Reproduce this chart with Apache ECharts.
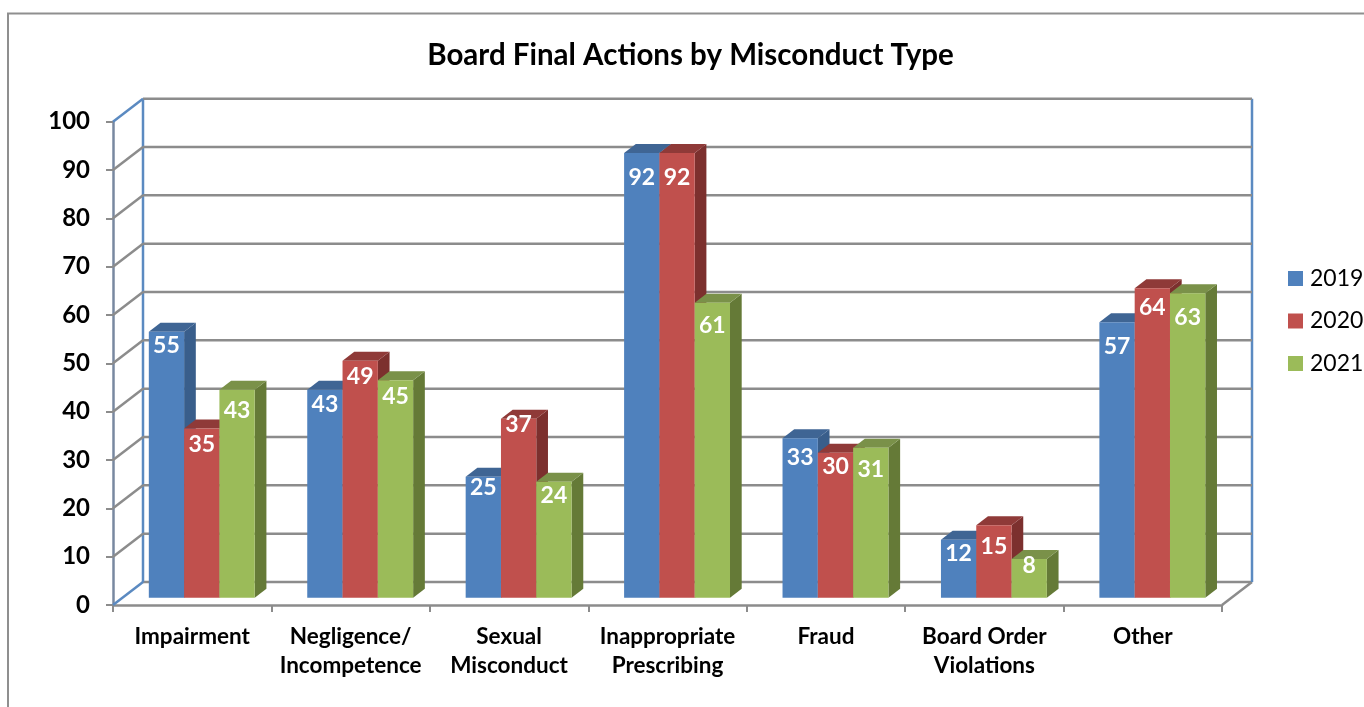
<!DOCTYPE html>
<html>
<head>
<meta charset="utf-8">
<style>
  html, body { margin: 0; padding: 0; background: #fff; }
  #chart { width: 1364px; height: 707px; }
</style>
<script src="https://cdn.jsdelivr.net/npm/echarts@6/dist/echarts.min.js"></script>
</head>
<body>
<div id="chart"></div>
<script>
const categories = ['Impairment', 'Negligence/\nIncompetence', 'Sexual\nMisconduct', 'Inappropriate\nPrescribing', 'Fraud', 'Board Order\nViolations', 'Other']
const yTicks = [0, 10, 20, 30, 40, 50, 60, 70, 80, 90, 100]
const values2019 = [55, 43, 25, 92, 33, 12, 57]
const values2020 = [35, 49, 37, 92, 30, 15, 64]
const values2021 = [43, 45, 24, 61, 31, 8, 63]

// the labels were placed by hand in the original, so each one drops by its own amount
const labelDrop2019 = [14, 15, 11, 25, 19, 14, 24]
const labelDrop2020 = [16, 16, 6, 25, 14, 21, 19]
const labelDrop2021 = [21, 16, 14, 23, 22, 7, 24]

const FONT = 'Lato'
const GREY = '#8c8c8c'
const BLUE = '#5b8ac1'
const FRONT_AXIS = '#7888a0'

// oblique projection used by the fake 3D
const DEPTH_X = 30
const DEPTH_Y = -23
const BAR_NEAR = 0.32
const BAR_FAR = 0.71
const BAR_W = 35.3
const CLUSTER_SHIFT = -53 // first bar starts this far left of the band centre
const LINE_W = 2.5

const chart = echarts.init(document.getElementById('chart'))

function wallItem(params, api) {
  const v = api.value(1)
  const cs = params.coordSys
  const y = api.coord([0, v])[1]
  const x0 = cs.x
  const x1 = cs.x + cs.width
  const bx0 = x0 + DEPTH_X
  const bx1 = x1 + DEPTH_X
  const by = y + DEPTH_Y
  const children = [
    { type: 'line', shape: { x1: bx0, y1: by, x2: bx1, y2: by }, style: { stroke: GREY, lineWidth: LINE_W } },
    { type: 'line', shape: { x1: x0, y1: y, x2: bx0, y2: by }, style: { stroke: v === 0 || v === 100 ? BLUE : GREY, lineWidth: LINE_W } }
  ]
  if (v === 0) {
    children.push({ type: 'line', shape: { x1: x1, y1: y, x2: bx1, y2: by }, style: { stroke: GREY, lineWidth: LINE_W } })
    const top = api.coord([0, 100])[1] + DEPTH_Y
    children.push({ type: 'line', shape: { x1: bx0, y1: by, x2: bx0, y2: top }, style: { stroke: BLUE, lineWidth: LINE_W } })
    children.push({ type: 'line', shape: { x1: bx1, y1: by, x2: bx1, y2: top }, style: { stroke: BLUE, lineWidth: LINE_W } })
  }
  return { type: 'group', children }
}

function barRenderer(slot, front, top, side, drops) {
  return function (params, api) {
    const i = api.value(0)
    const v = api.value(1)
    const c = api.coord([i, v])
    const base = api.coord([i, 0])[1]
    const left = c[0] + CLUSTER_SHIFT + slot * BAR_W + DEPTH_X * BAR_NEAR
    const right = left + BAR_W
    const yTop = c[1] + DEPTH_Y * BAR_NEAR
    const yBase = base + DEPTH_Y * BAR_NEAR
    const dx = DEPTH_X * (BAR_FAR - BAR_NEAR)
    const dy = DEPTH_Y * (BAR_FAR - BAR_NEAR)
    return {
      type: 'group',
      children: [
        { type: 'polygon', shape: { points: [[right, yBase], [right + dx, yBase + dy], [right + dx, yTop + dy], [right, yTop]] }, style: { fill: side } },
        { type: 'polygon', shape: { points: [[left, yTop], [left + dx, yTop + dy], [right + dx, yTop + dy], [right, yTop]] }, style: { fill: top } },
        { type: 'rect', shape: { x: left, y: yTop, width: BAR_W, height: yBase - yTop }, style: { fill: front } },
        {
          type: 'text',
          style: {
            x: (left + right) / 2,
            y: yTop + drops[i],
            text: String(v),
            fill: '#fff',
            font: 'bold 23px ' + FONT,
            align: 'center',
            verticalAlign: 'middle'
          }
        }
      ]
    }
  }
}

function barSeries(name, values, slot, front, top, side, drops) {
  return {
    name,
    type: 'custom',
    coordinateSystem: 'cartesian2d',
    itemStyle: { color: front },
    renderItem: barRenderer(slot, front, top, side, drops),
    encode: { x: 0, y: 1 },
    data: values.map((v, i) => [i, v]),
    z: 3 + slot
  }
}

const option = {
  animation: false,
  backgroundColor: '#fff',
  title: {
    text: 'Board Final Actions by Misconduct Type',
    left: 685.5,
    top: 35,
    textAlign: 'center',
    textStyle: { fontFamily: FONT, fontSize: 29.5, fontWeight: 'bold', color: '#000' }
  },
  legend: {
    data: ['2019', '2020', '2021'],
    orient: 'vertical',
    left: 1283,
    top: 262,
    icon: 'rect',
    itemWidth: 15,
    itemHeight: 15,
    itemGap: 19.5,
    textStyle: { fontFamily: FONT, fontSize: 23, color: '#000', padding: [0, 0, 0, 2] }
  },
  grid: { left: 113, top: 121.7, width: 1109, height: 483.3 },
  xAxis: {
    type: 'category',
    data: categories,
    axisLine: { lineStyle: { color: GREY, width: LINE_W } },
    axisTick: { show: true, length: 7, lineStyle: { color: GREY, width: 2 } },
    axisLabel: {
      interval: 0,
      margin: 17,
      fontFamily: FONT,
      fontSize: 22.5,
      fontWeight: 'bold',
      color: '#000',
      lineHeight: 29
    }
  },
  yAxis: {
    type: 'value',
    min: 0,
    max: 100,
    interval: 10,
    splitLine: { show: false },
    axisLine: { show: true, lineStyle: { color: FRONT_AXIS, width: LINE_W } },
    axisTick: { show: true, length: 7, lineStyle: { color: GREY, width: 2 } },
    axisLabel: {
      margin: 23,
      padding: [6, 0, 0, 0],
      fontFamily: FONT,
      fontSize: 24,
      fontWeight: 'bold',
      color: '#000'
    }
  },
  graphic: [
    { type: 'polyline', shape: { points: [[8, 707], [8, 13.5], [1364, 13.5]] }, style: { stroke: '#8f8f8f', lineWidth: 2, fill: null } }
  ],
  series: [
    {
      type: 'custom',
      coordinateSystem: 'cartesian2d',
      renderItem: wallItem,
      encode: { x: 0, y: 1 },
      silent: true,
      data: yTicks.map(t => [0, t]),
      z: 1
    },
    barSeries('2019', values2019, 0, '#4f81bd', '#3f6594', '#395e8b', labelDrop2019),
    barSeries('2020', values2020, 1, '#c0504d', '#8f3a38', '#7c302e', labelDrop2020),
    barSeries('2021', values2021, 2, '#9bbb59', '#7a9149', '#657a37', labelDrop2021)
  ]
}

chart.setOption(option)
</script>
</body>
</html>
